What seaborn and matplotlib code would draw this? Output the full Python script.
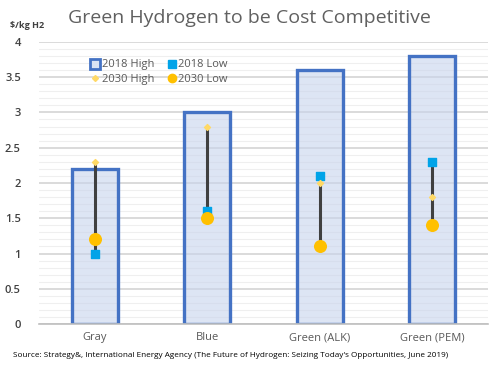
import numpy as np
import pandas as pd
import seaborn as sns
import matplotlib
matplotlib.use("Agg")
import matplotlib.pyplot as plt
from matplotlib.lines import Line2D
from matplotlib.ticker import MultipleLocator

# Datos
categorias = ["Gray", "Blue", "Green (ALK)", "Green (PEM)"]
high_2018 = [2.2, 3.0, 3.6, 3.8]
low_2018 = [1.0, 1.6, 2.1, 2.3]
high_2030 = [2.3, 2.8, 2.0, 1.8]
low_2030 = [1.2, 1.5, 1.1, 1.4]

df = pd.DataFrame({
    "cat": categorias,
    "h18": high_2018,
    "l18": low_2018,
    "h30": high_2030,
    "l30": low_2030,
})

sns.set_style("white")
plt.rcParams["font.family"] = ["Open Sans", "DejaVu Sans"]

fig = plt.figure(figsize=(4.99, 3.67), dpi=100)
ax = fig.add_axes([0.078, 0.117, 0.9, 0.769])

# grid
ax.yaxis.set_major_locator(MultipleLocator(0.5))
ax.yaxis.set_minor_locator(MultipleLocator(0.1))
ax.grid(axis="y", which="major", color="#d4d4d4", linewidth=1.2, zorder=0)
ax.grid(axis="y", which="minor", color="#efefef", linewidth=0.8, zorder=0)
ax.set_axisbelow(True)

sns.barplot(data=df, x="cat", y="h18", ax=ax, color="#d3ddef",
            edgecolor="#4472c4", linewidth=2.4, width=0.41, zorder=2)
for p in ax.patches:
    p.set_edgecolor("#4472c4")
    p.set_facecolor((0.78, 0.83, 0.93, 0.6))

xs = np.arange(len(categorias))
top = df[["l18", "h30", "l30"]].max(axis=1)
bot = df[["l18", "h30", "l30"]].min(axis=1)
ax.vlines(xs, bot, top, color="#404040", linewidth=2.2, zorder=3)

ax.scatter(xs, df["l18"], marker="s", s=30, color="#00a3e8", zorder=4)
ax.scatter(xs, df["h30"], marker="D", s=9, color="#ffd966", zorder=4)
ax.scatter(xs, df["l30"], marker="o", s=70, color="#ffc000", zorder=4)

ax.set_ylim(0, 4)
ax.set_xlim(-0.5, 3.5)
ax.set_xlabel("")
ax.set_ylabel("")
for s in ["top", "right", "left"]:
    ax.spines[s].set_visible(False)
ax.spines["bottom"].set_color("#bfbfbf")
ax.spines["bottom"].set_linewidth(1.2)
ax.tick_params(axis="y", which="both", length=0, labelsize=8, labelcolor="#404040", pad=13)
ax.tick_params(axis="x", length=0, labelsize=8, labelcolor="#595959", pad=6)
ax.set_yticks([0, 0.5, 1, 1.5, 2, 2.5, 3, 3.5, 4])
ax.set_yticklabels(["0", "0.5", "1", "1.5", "2", "2.5", "3", "3.5", "4"], fontweight="semibold")

h_h18 = Line2D([], [], marker="s", linestyle="", markersize=7, markerfacecolor="#dae3f3",
               markeredgecolor="#4472c4", markeredgewidth=2)
h_l18 = Line2D([], [], marker="s", linestyle="", markersize=6, color="#00a3e8")
h_h30 = Line2D([], [], marker="D", linestyle="", markersize=3, color="#ffd966")
h_l30 = Line2D([], [], marker="o", linestyle="", markersize=6, color="#ffc000")
ax.legend([h_h18, h_h30, h_l18, h_l30], ["2018 High", "2030 High", "2018 Low", "2030 Low"],
          ncol=2, loc="upper left", bbox_to_anchor=(0.095, 0.965), frameon=False, fontsize=8,
          labelcolor="#595959", handletextpad=0.1, columnspacing=1.1, handlelength=1.0,
          borderpad=0.2, labelspacing=0.35)

fig.text(0.5, 0.95, "Green Hydrogen to be Cost Competitive", ha="center", va="center",
         fontsize=14, color="#606060")
fig.text(0.02, 0.93, "$/kg H2", ha="left", va="center", fontsize=6.5,
         color="#404040", fontweight="bold")
fig.text(0.026, 0.032, "Source: Strategy&, International Energy Agency (The Future of Hydrogen: Seizing Today's Opportunities, June 2019)",
         ha="left", va="center", fontsize=5.9, color="#000000")

fig.savefig("out.png", dpi=100)
